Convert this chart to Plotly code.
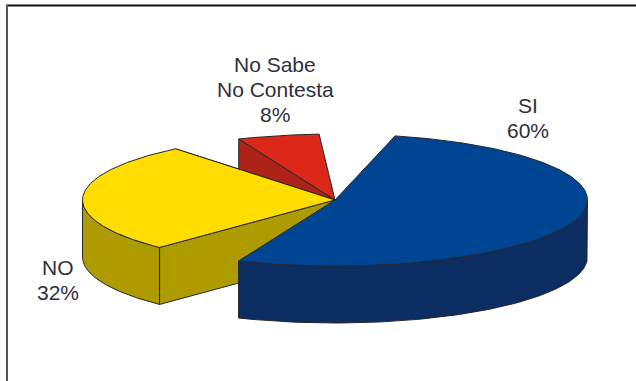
import numpy as np
import plotly.graph_objects as go

# Survey answers, in percent
categories = [["No Sabe", "No Contesta"], ["NO"], ["SI"]]
shares = [8, 32, 60]

# Slice colours: top face and side wall
top_colours = ["#DC2818", "#FFDD00", "#004494"]
wall_colours = ["#AE2318", "#AD9B00", "#0B2D62"]

# Start of each slice, in degrees counter-clockwise from the back of the pie
slice_starts = [4.5, 49.0, 162.4]
DEGREES_PER_PERCENT = 3.0
FORESHORTEN = 0.78  # the back of the pie looks narrower than the front

# Pie placement on the page
CX, CY, RX, RY, DEPTH = 335.0, 200.0, 252.5, 66.0, 57.0
EDGE = "#26262b"
TEXT = "#2f2f3d"
LINE_STEP = 25


def screen_angle(theta):
    """Angle on the ellipse, in degrees, for a slice angle after foreshortening."""
    half = np.radians(np.asarray(theta, dtype=float) / 2)
    return 90 + 2 * np.degrees(np.arctan2(FORESHORTEN * np.sin(half), np.cos(half)))


def rim(t, drop=0.0):
    r = np.radians(t)
    return CX + RX * np.cos(r), CY - RY * np.sin(r) + drop


def poly(fig, xs, ys, colour):
    fig.add_trace(go.Scatter(
        x=xs, y=ys, mode="lines", fill="toself", fillcolor=colour,
        line=dict(color=EDGE, width=1), hoverinfo="skip", showlegend=False,
    ))


def close(xs, ys):
    return list(xs) + [xs[0]], list(ys) + [ys[0]]


def cut_face(fig, t, colour):
    x, y = rim(t)
    x2, y2 = rim(t, DEPTH)
    poly(fig, *close([CX, x, x2, CX], [CY, y, y2, CY + DEPTH]), colour)


def outer_wall(fig, t0, t1, colour):
    # Only the part of the rim facing the viewer has a visible wall
    low, high = max(t0, 180.0), min(t1, 360.0)
    if high <= low:
        return
    ts = np.linspace(low, high, 120)
    x, y = rim(ts)
    xb, yb = rim(ts[::-1], DEPTH)
    poly(fig, *close(np.r_[x, xb], np.r_[y, yb]), colour)


def top_face(fig, t0, t1, colour):
    ts = np.linspace(t0, t1, 200)
    x, y = rim(ts)
    poly(fig, *close(np.r_[CX, x], np.r_[CY, y]), colour)


fig = go.Figure()

# Painted back to front: red, then yellow, then blue
for share, start, top, wall in zip(shares, slice_starts, top_colours, wall_colours):
    end = start + share * DEGREES_PER_PERCENT
    t0, t1 = float(screen_angle(start)), float(screen_angle(end))
    # Angles past the front of the pie unwrap to above 270
    if end > 180:
        t1 = float(screen_angle(end - 360)) + 360
    if t0 < 180:
        cut_face(fig, t0 if share > 10 else t1, wall)
    if t1 > 180 and t0 < 180:
        cut_face(fig, t1, wall)
    outer_wall(fig, t0, t1, wall)
    top_face(fig, t0, t1, top)

# Each text line is placed on its own so the leading stays tight
label_spots = [(275, 64), (58, 267), (528, 105)]
for name, share, (lx, ly) in zip(categories, shares, label_spots):
    for row, line in enumerate(name + [f"{share}%"]):
        fig.add_annotation(
            x=lx, y=ly + row * LINE_STEP, text=line, showarrow=False,
            font=dict(family="Liberation Sans", size=21, color=TEXT),
            xanchor="center", yanchor="middle",
        )

# Frame on the top and left of the page
fig.add_shape(type="line", x0=6, x1=636, y0=5.5, y1=5.5, line=dict(color="#111111", width=2))
fig.add_shape(type="line", x0=7, x1=7, y0=5, y1=381, line=dict(color="#555555", width=2))

fig.update_xaxes(range=[0, 636], visible=False, fixedrange=True)
fig.update_yaxes(range=[381, 0], visible=False, fixedrange=True)
fig.update_layout(
    width=636, height=381, margin=dict(l=0, r=0, t=0, b=0),
    paper_bgcolor="white", plot_bgcolor="white",
)
fig.write_html("out.html", config={"displayModeBar": False})
